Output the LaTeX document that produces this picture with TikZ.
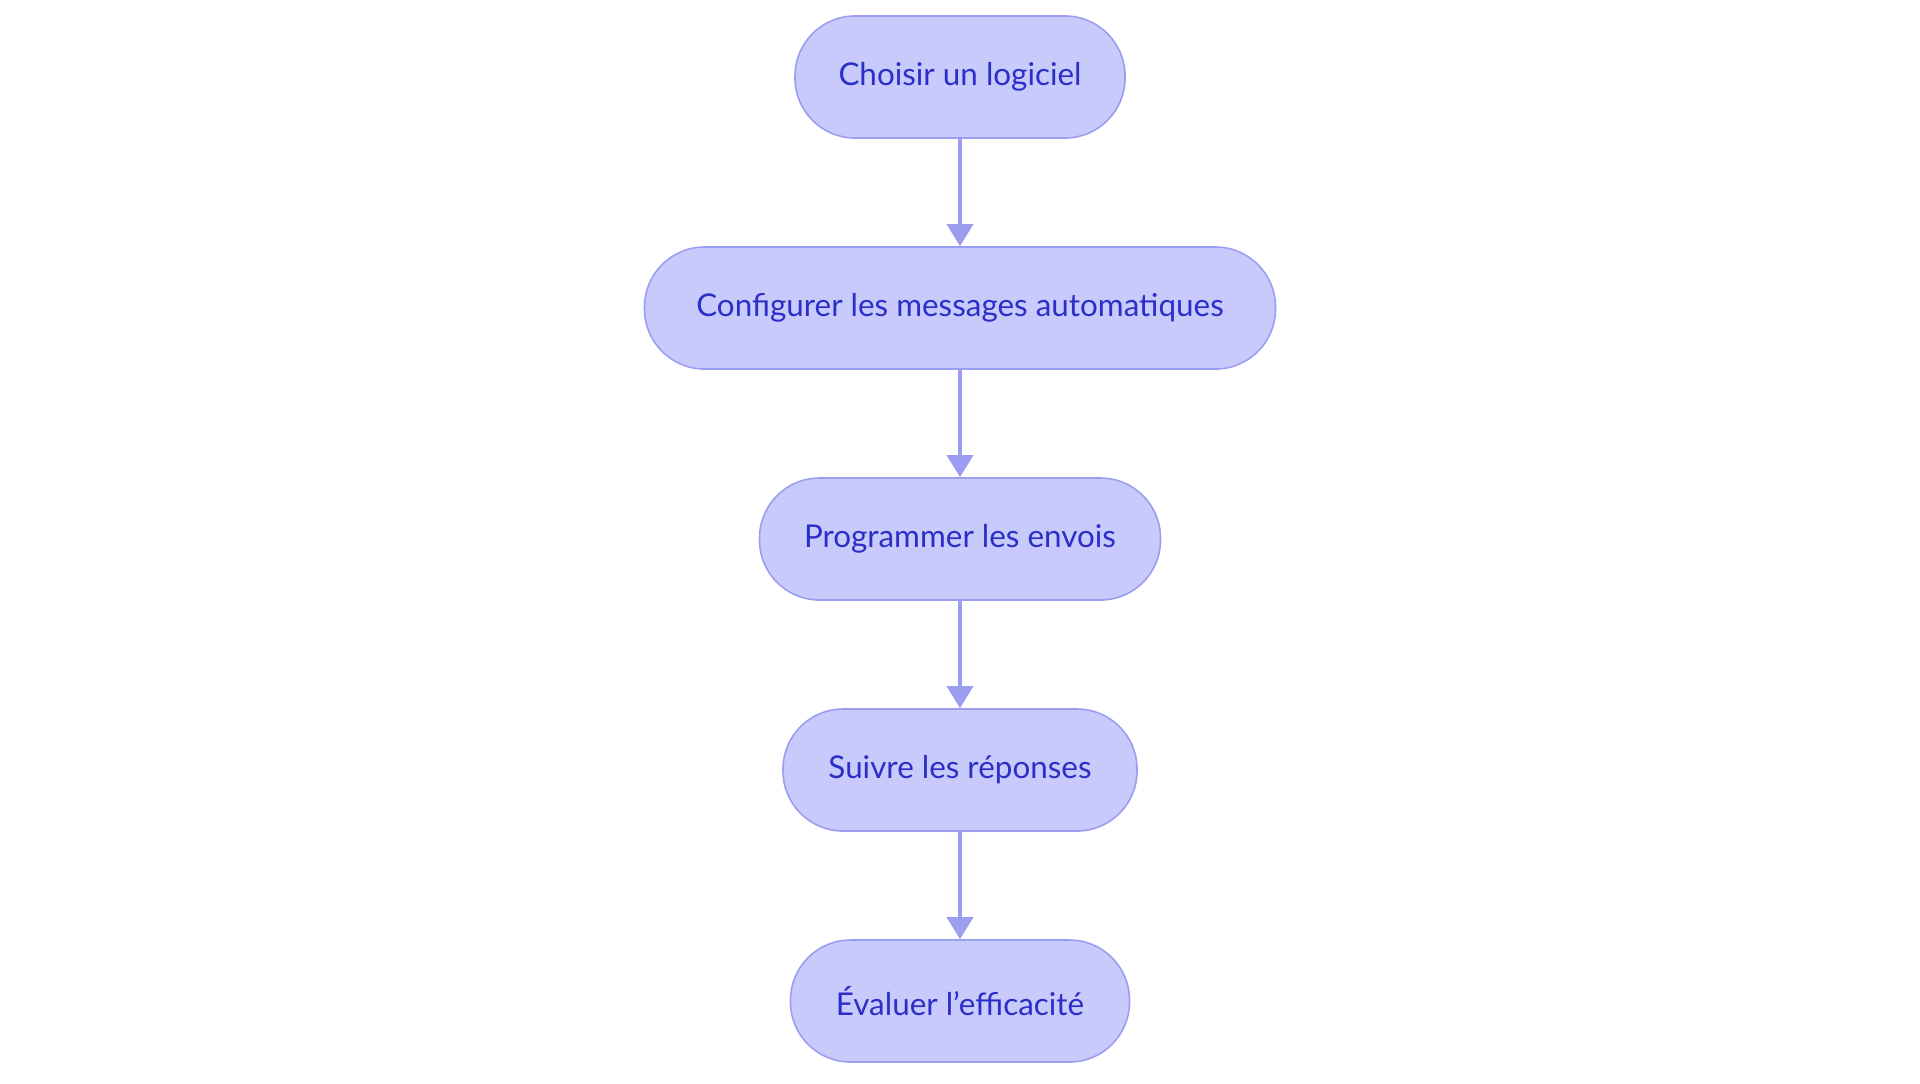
\documentclass[tikz,border=0pt]{standalone}
\usepackage{fontspec}
\setmainfont{Lato}
\usetikzlibrary{positioning,arrows.meta}
\definecolor{stepfill}{HTML}{C8CAFB}
\definecolor{stepline}{HTML}{9A9EF0}
\definecolor{steptext}{HTML}{2B2FC8}

\begin{document}
\begin{tikzpicture}[
  stepbox/.style={rectangle,rounded corners=30pt,draw=stepline,fill=stepfill,line width=0.8pt,
    minimum height=61pt,inner xsep=21.75pt,text=steptext,font=\fontsize{15.7}{18}\selectfont},
  flow/.style={-{Triangle[length=11pt,width=13pt]},stepline,line width=1.8pt},
  node distance=53.7pt
]
\useasboundingbox (0,0) rectangle (960pt,-541.5pt);
% steps, top to bottom
\node[stepbox,minimum width=163pt] (choix) at (480pt,-38.5pt) {Choisir un logiciel};
\node[stepbox,minimum width=315.5pt,below=of choix] (config) {Configurer les messages automatiques};
\node[stepbox,minimum width=200.5pt,below=of config] (prog) {Programmer les envois};
\node[stepbox,minimum width=177pt,below=of prog] (suivi) {Suivre les réponses};
\node[stepbox,minimum width=169.5pt,below=of suivi] (eval) {Évaluer l’efficacité};
% arrows
\draw[flow] (choix) -- (config);
\draw[flow] (config) -- (prog);
\draw[flow] (prog) -- (suivi);
\draw[flow] (suivi) -- (eval);
\end{tikzpicture}
\end{document}
